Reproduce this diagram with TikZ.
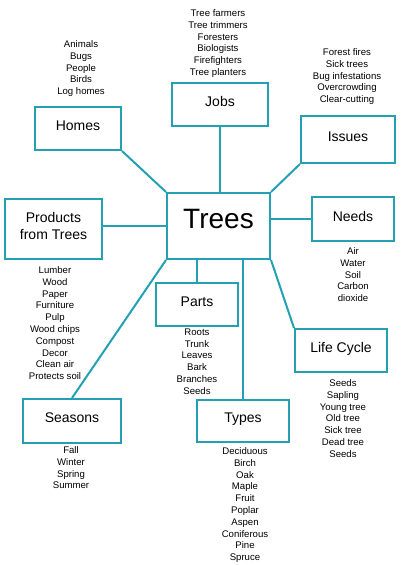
\documentclass[tikz,border=0pt]{standalone}
\usepackage{fontspec}
\setmainfont{Liberation Sans}
\usepackage{tikz}
\usetikzlibrary{positioning}
\definecolor{treeteal}{RGB}{35,160,180}
\tikzset{
    block/.style={
        draw = treeteal, line width = 2pt,
        align = center, text depth = 6pt,
        font = \fontsize{14}{16.5}\selectfont
    },
    items/.style = {
        anchor = north, inner sep = 0pt, align = center,
        font = \fontsize{9.6}{11.8}\selectfont
    },
    line/.style = {draw = treeteal, line width = 2pt}
}
\begin{document}
\begin{tikzpicture}[x=1pt, y=-1pt]

    \useasboundingbox (0,0) rectangle (400,565);

    % Centre box
    \node[block, minimum width = 103, minimum height = 66, text depth = 14pt,
        font = \fontsize{28}{30}\selectfont] (trees) at (218.5,226) {Trees};

    % Boxes
    \node[block, minimum width = 86, minimum height = 43] (homes) at (78,128.5) {Homes};
    \node[block, minimum width = 96, minimum height = 43] (jobs) at (220,104.5) {Jobs};
    \node[block, minimum width = 94, minimum height = 47] (issues) at (348,139.5) {Issues};
    \node[block, minimum width = 82, minimum height = 44] (needs) at (353,219) {Needs};
    \node[block, minimum width = 97, minimum height = 60] (products) at (53.5,229) {Products\\from Trees};
    \node[block, minimum width = 82, minimum height = 43] (parts) at (197,304.5) {Parts};
    \node[block, minimum width = 92, minimum height = 43] (cycle) at (341,350.5) {Life Cycle};
    \node[block, minimum width = 98, minimum height = 44] (seasons) at (72,421) {Seasons};
    \node[block, minimum width = 92, minimum height = 42] (types) at (243,421) {Types};

    % Connectors
    \path[line] (homes.south east) -- (trees.north west);
    \path[line] (jobs.south) -- (jobs.south |- trees.north);
    \path[line] (issues.south west) -- (trees.north east);
    \path[line] (trees.west) -- (trees.west -| products.east);
    \path[line] (needs.west) -- (needs.west -| trees.east);
    \path[line] (trees.south west) -- (seasons.north);
    \path[line] (parts.north) -- (parts.north |- trees.south);
    \path[line] (types.north) -- (types.north |- trees.south);
    \path[line] (trees.south east) -- (cycle.north west);

    % Lists
    \node[items] (jobslist) at (218,9.4) {Tree farmers\\Tree trimmers\\Foresters\\Biologists\\Firefighters\\Tree planters};
    \node[items] (homeslist) at (81,40.4) {Animals\\Bugs\\People\\Birds\\Log homes};
    \node[items] (issueslist) at (347,48.4) {Forest fires\\Sick trees\\Bug infestations\\Overcrowding\\Clear-cutting};
    \node[items] (needslist) at (353,247.4) {Air\\Water\\Soil\\Carbon\\dioxide};
    \node[items] (productslist) at (55,266.4) {Lumber\\Wood\\Paper\\Furniture\\Pulp\\Wood chips\\Compost\\Decor\\Clean air\\Protects soil};
    \node[items] (partslist) at (197,328.4) {Roots\\Trunk\\Leaves\\Bark\\Branches\\Seeds};
    \node[items] (cyclelist) at (343,379.4) {Seeds\\Sapling\\Young tree\\Old tree\\Sick tree\\Dead tree\\Seeds};
    \node[items] (seasonslist) at (71,446.4) {Fall\\Winter\\Spring\\Summer};
    \node[items] (typeslist) at (245,447.4) {Deciduous\\Birch\\Oak\\Maple\\Fruit\\Poplar\\Aspen\\Coniferous\\Pine\\Spruce};

\end{tikzpicture}
\end{document}
